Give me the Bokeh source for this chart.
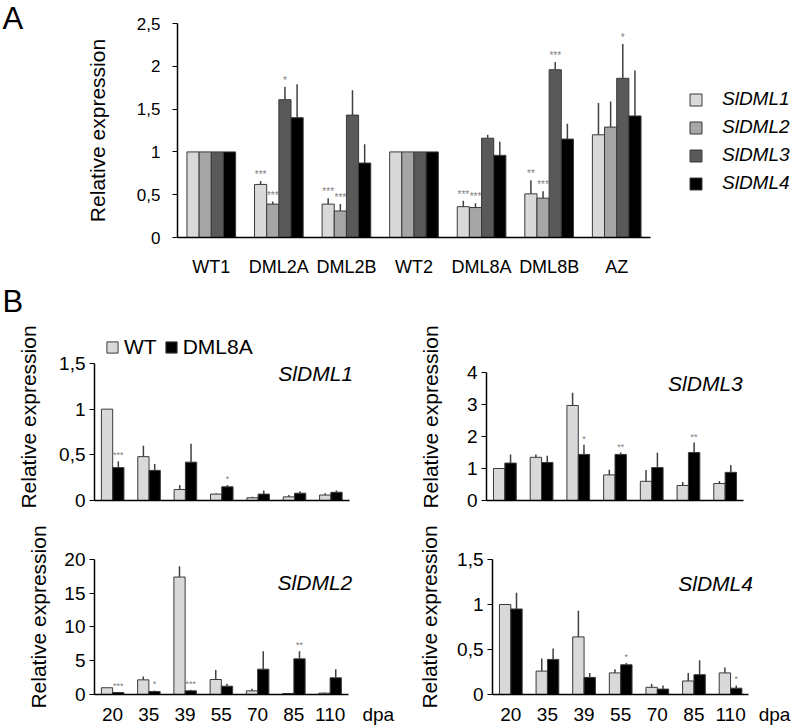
import math
from bokeh.plotting import figure
from bokeh.models import (ColumnDataSource, Range1d, FixedTicker, LinearAxis,
                          CustomJSTickFormatter, Legend, LegendItem, Label)
from bokeh.transform import dodge
from bokeh.layouts import column, row
from bokeh.embed import file_html
from bokeh.resources import INLINE
from bokeh.core.properties import value

FONT = "Liberation Sans"
C1, C2, C3, C4 = "#d9d9d9", "#a6a6a6", "#595959", "#000000"
EDGE = "#3a3a3a"
ERR = "#404040"
STAR = "#808080"
YLABEL = "Relative expression"

# ---------------- Panel A data ----------------
groups_a = ["WT1", "DML2A", "DML2B", "WT2", "DML8A", "DML8B", "AZ"]
genes = ["SlDML1", "SlDML2", "SlDML3", "SlDML4"]
a_dml1 = [1.0, 0.62, 0.39, 1.0, 0.36, 0.51, 1.20]
a_dml1_sd = [0, 0.04, 0.07, 0, 0.07, 0.16, 0.37]
a_dml1_sig = ["", "***", "***", "", "***", "**", ""]
a_dml2 = [1.0, 0.39, 0.31, 1.0, 0.35, 0.46, 1.29]
a_dml2_sd = [0, 0.03, 0.08, 0, 0.05, 0.08, 0.30]
a_dml2_sig = ["", "***", "***", "", "***", "***", ""]
a_dml3 = [1.0, 1.61, 1.43, 1.0, 1.16, 1.96, 1.86]
a_dml3_sd = [0, 0.15, 0.29, 0, 0.04, 0.09, 0.40]
a_dml3_sig = ["", "*", "", "", "", "***", "*"]
a_dml4 = [1.0, 1.40, 0.87, 1.0, 0.96, 1.15, 1.42]
a_dml4_sd = [0, 0.39, 0.22, 0, 0.16, 0.18, 0.53]
a_dml4_sig = ["", "", "", "", "", "", ""]
a_ticks = [0, 0.5, 1, 1.5, 2, 2.5]

# ---------------- Panel B data ----------------
days = ["20", "35", "39", "55", "70", "85", "110"]
day_unit = "dpa"
series_b = ["WT", "DML8A"]

b1_wt = [1.0, 0.48, 0.12, 0.07, 0.03, 0.04, 0.06]
b1_wt_sd = [0, 0.12, 0.05, 0.01, 0.01, 0.02, 0.02]
b1_dm = [0.36, 0.33, 0.42, 0.15, 0.07, 0.08, 0.09]
b1_dm_sd = [0.07, 0.07, 0.20, 0.02, 0.04, 0.02, 0.02]
b1_sig = ["***", "", "", "*", "", "", ""]
b1_ticks = [0, 0.5, 1, 1.5]

b3_wt = [1.0, 1.35, 2.97, 0.80, 0.60, 0.47, 0.53]
b3_wt_sd = [0, 0.09, 0.40, 0.16, 0.35, 0.11, 0.08]
b3_dm = [1.17, 1.19, 1.44, 1.44, 1.03, 1.50, 0.88]
b3_dm_sd = [0.27, 0.21, 0.30, 0.06, 0.46, 0.31, 0.23]
b3_sig = ["", "", "*", "**", "", "**", ""]
b3_ticks = [0, 1, 2, 3, 4]

b2_wt = [1.0, 2.17, 17.4, 2.22, 0.54, 0.15, 0.20]
b2_wt_sd = [0, 0.5, 1.6, 1.4, 0.3, 0, 0.1]
b2_dm = [0.30, 0.44, 0.54, 1.23, 3.75, 5.28, 2.47]
b2_dm_sd = [0.05, 0.16, 0.16, 0.37, 2.65, 1.12, 1.28]
b2_sig = ["***", "*", "***", "", "", "**", ""]
b2_ticks = [0, 5, 10, 15, 20]

b4_wt = [1.0, 0.26, 0.64, 0.24, 0.08, 0.15, 0.24]
b4_wt_sd = [0, 0.14, 0.29, 0.04, 0.04, 0.09, 0.06]
b4_dm = [0.95, 0.39, 0.19, 0.33, 0.06, 0.22, 0.07]
b4_dm_sd = [0.18, 0.12, 0.05, 0.02, 0.04, 0.16, 0.03]
b4_sig = ["", "", "", "*", "", "", "*"]
b4_ticks = [0, 0.5, 1, 1.5]

comma_fmt = "return tick.toString().replace('.', ',');"
label_fmt = "return labels[Math.floor(tick)];"


def blank_fig(width, height, xr, yr, mt=0, mb=0):
    p = figure(x_range=xr, y_range=yr, width=width, height=height,
               x_axis_type=None, y_axis_type=None, output_backend="svg",
               toolbar_location=None, min_border_left=0, min_border_right=0,
               min_border_top=mt, min_border_bottom=mb)
    p.outline_line_color = None
    p.background_fill_color = "white"
    p.border_fill_color = "white"
    return p


def style_y(p, ticks, font_size, standoff, tick_standoff, bound, label):
    ax = p.yaxis[0]
    ax.ticker = FixedTicker(ticks=ticks)
    ax.formatter = CustomJSTickFormatter(code=comma_fmt)
    ax.bounds = (0, bound)
    ax.axis_line_color = "black"
    ax.axis_line_width = 1.5
    ax.major_tick_in = 0
    ax.major_tick_out = 5
    ax.major_tick_line_color = "black"
    ax.major_tick_line_width = 1.2
    ax.minor_tick_line_color = None
    ax.major_label_text_font = FONT
    ax.major_label_text_font_size = font_size
    ax.major_label_text_color = "black"
    ax.major_label_standoff = tick_standoff
    if label:
        ax.axis_label = YLABEL
        ax.axis_label_text_font = FONT
        ax.axis_label_text_font_size = "21px"
        ax.axis_label_text_font_style = "normal"
        ax.axis_label_text_color = "black"
        ax.axis_label_standoff = standoff
    p.ygrid.visible = False


def add_x_axes(p, n, labels, label_ticks, font_size, standoff):
    line_ax = LinearAxis(ticker=FixedTicker(ticks=[]), bounds=(0, n),
                         axis_line_color="black", axis_line_width=1.5,
                         major_tick_out=0, major_tick_in=0, major_tick_line_color=None,
                         minor_tick_line_color=None, major_label_standoff=0)
    p.add_layout(line_ax, "below")
    if labels:
        lab_ax = LinearAxis(ticker=FixedTicker(ticks=label_ticks),
                            formatter=CustomJSTickFormatter(args=dict(labels=labels), code=label_fmt),
                            axis_line_color=None, major_tick_line_color=None,
                            minor_tick_line_color=None, major_tick_out=0, major_tick_in=0,
                            major_label_standoff=standoff, major_label_text_font=FONT,
                            major_label_text_font_size=font_size, major_label_text_color="black")
        p.add_layout(lab_ax, "below")


def add_bars(p, xs, vals, sds, sigs, off, width, color, star_size):
    src = ColumnDataSource(dict(x=xs, top=vals,
                                err=[v + s for v, s in zip(vals, sds)], sig=sigs))
    xd = dodge("x", off)
    r = p.vbar(x=xd, top="top", width=width, source=src,
               fill_color=color, line_color=EDGE, line_width=1)
    p.segment(x0=xd, y0="top", x1=xd, y1="err", source=src,
              line_color=ERR, line_width=1.5)
    p.text(x=xd, y="err", text="sig", source=src, text_align="center",
           text_baseline="bottom", text_font_size=star_size, text_color=STAR,
           text_font=value(FONT), y_offset=-1)
    return r


# ---------------- Panel A ----------------
# left strip: panel letter + y axis title
pLetA = blank_fig(120, 280, Range1d(0, 120), Range1d(237, 0), mt=0, mb=43)
pLetA.add_layout(Label(x=2, y=17.5, text="A", text_baseline="middle", text_align="left",
                       text_font=FONT, text_font_size="31px", text_color="black"))
pLetA.add_layout(Label(x=97, y=130, text=YLABEL, angle=math.pi / 2,
                       text_baseline="middle", text_align="center",
                       text_font=FONT, text_font_size="21px", text_color="black"))

nA = len(groups_a)
xa = [i + 0.5 for i in range(nA)]
pA = figure(x_range=Range1d(0, 9.072), y_range=Range1d(0, 2.769), width=673, height=280,
            x_axis_type=None, output_backend="svg", toolbar_location=None,
            min_border_left=57, min_border_right=3, min_border_top=0, min_border_bottom=43)
pA.outline_line_color = None
pA.background_fill_color = "white"
pA.border_fill_color = "white"
style_y(pA, a_ticks, "17px", 0, 12, 2.5, False)
add_x_axes(pA, nA, groups_a, xa, "18px", 19)

a_vals = [a_dml1, a_dml2, a_dml3, a_dml4]
a_sds = [a_dml1_sd, a_dml2_sd, a_dml3_sd, a_dml4_sd]
a_sigs = [a_dml1_sig, a_dml2_sig, a_dml3_sig, a_dml4_sig]
a_cols = [C1, C2, C3, C4]
a_offs = [-0.27, -0.09, 0.09, 0.27]
a_rends = []
for v, s, g, c, o in zip(a_vals, a_sds, a_sigs, a_cols, a_offs):
    a_rends.append(add_bars(pA, xa, v, s, g, o, 0.18, c, "10px"))

legA = Legend(items=[LegendItem(label=g, renderers=[r]) for g, r in zip(genes, a_rends)],
              location=(511, 43), padding=0, margin=0, spacing=6,
              glyph_width=15, glyph_height=15, label_standoff=19,
              label_text_font=FONT, label_text_font_size="19px",
              label_text_font_style="italic", label_text_color="black",
              border_line_color=None, background_fill_alpha=0)
pA.add_layout(legA)

# ---------------- "B" strip ----------------
pStrip = blank_fig(793, 40, Range1d(0, 793), Range1d(40, 0))
pStrip.add_layout(Label(x=2, y=21, text="B", text_baseline="middle", text_align="left",
                        text_font=FONT, text_font_size="31px", text_color="black"))


# ---------------- Panel B ----------------
def make_b(title, wt, wt_sd, dm, dm_sd, sig, ymax_axis, ymax_range, ticks, xend,
           width, height, ml, mr, mt, mb, lab_standoff, title_x, title_y, unit_x=None):
    p = figure(x_range=Range1d(0, xend), y_range=Range1d(0, ymax_range),
               width=width, height=height, x_axis_type=None,
               output_backend="svg", toolbar_location=None,
               min_border_left=ml, min_border_right=mr, min_border_top=mt, min_border_bottom=mb)
    p.outline_line_color = None
    p.background_fill_color = "white"
    p.border_fill_color = "white"
    style_y(p, ticks, "19px", lab_standoff, 4, ymax_axis, True)
    n = len(days)
    xpos = [i + 0.5 for i in range(n)]
    if unit_x is not None:
        add_x_axes(p, n, days + [day_unit], xpos + [unit_x], "19px", 9)
    else:
        add_x_axes(p, n, None, None, None, None)
    r1 = add_bars(p, xpos, wt, wt_sd, [""] * n, -0.155, 0.31, C1, "9px")
    r2 = add_bars(p, xpos, dm, dm_sd, sig, 0.155, 0.31, C4, "9px")
    p.add_layout(Label(x=title_x, y=title_y, text=title,
                       text_align="right", text_baseline="middle", text_color="black",
                       text_font=FONT, text_font_size="21px", text_font_style="italic"))
    return p, r1, r2


pB1, rw, rd = make_b("SlDML1", b1_wt, b1_wt_sd, b1_dm, b1_dm_sd, b1_sig, 1.5, 1.8285, b1_ticks,
                     7.15, 400, 198, 94, 46, 13, 18, 16, 7.11, 1.39)
legB = Legend(items=[LegendItem(label=series_b[0], renderers=[rw]),
                     LegendItem(label=series_b[1], renderers=[rd])],
              location=(11, 141), orientation="horizontal", padding=0, margin=0,
              spacing=7, glyph_width=14, glyph_height=14, label_standoff=5,
              label_text_font=FONT, label_text_font_size="21px", label_text_color="black",
              border_line_color=None, background_fill_alpha=0)
pB1.add_layout(legB)

pB3, _, _ = make_b("SlDML3", b3_wt, b3_wt_sd, b3_dm, b3_dm_sd, b3_sig, 4, 5.22, b3_ticks,
                   7.0, 393, 198, 86, 50, 13, 18, 22, 6.98, 3.66)
pB2, _, _ = make_b("SlDML2", b2_wt, b2_wt_sd, b2_dm, b2_dm_sd, b2_sig, 20, 22.96, b2_ticks,
                   8.0, 400, 210, 94, 16, 21, 34, 11, 7.11, 16.6, unit_x=7.83)
pB4, _, _ = make_b("SlDML4", b4_wt, b4_wt_sd, b4_dm, b4_dm_sd, b4_sig, 1.5, 1.722, b4_ticks,
                   8.0, 393, 210, 92, 8, 21, 34, 13, 7.11, 1.235, unit_x=7.7)

layout = column(row(pLetA, pA), pStrip, row(pB1, pB3), row(pB2, pB4))
open("out.html", "w").write(file_html(layout, INLINE))
